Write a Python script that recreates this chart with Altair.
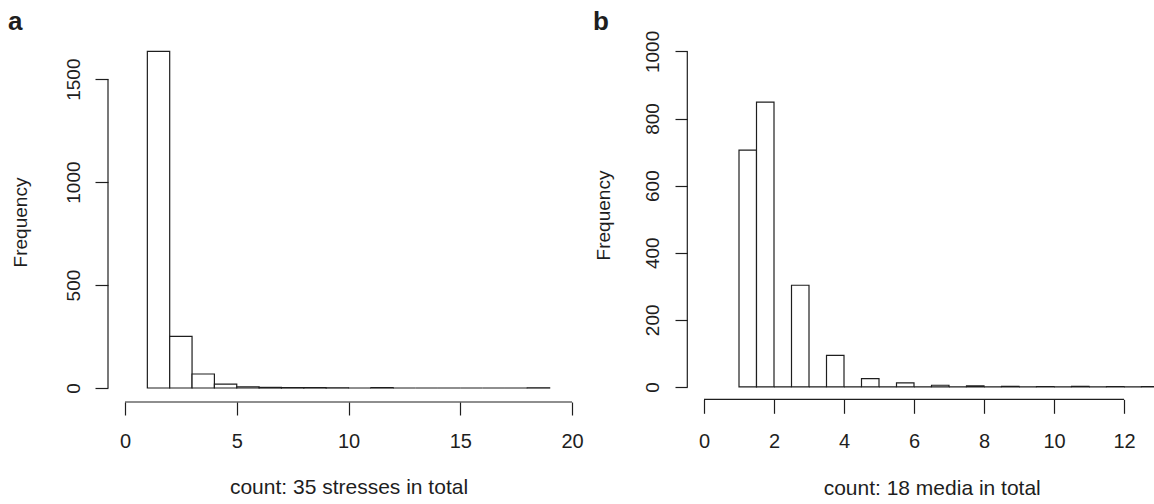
import altair as alt
import pandas as pd

# ---- data ----
a_bin_left = [1, 2, 3, 4, 5, 6, 7, 8, 9, 10, 11, 12, 13, 14, 15, 16, 17, 18]
a_counts = [1635, 251, 68, 19, 6, 3, 2, 2, 1, 0, 2, 0, 0, 0, 0, 0, 0, 1]
a_xticks = [0, 5, 10, 15, 20]
a_yticks = [0, 500, 1000, 1500]

b_bin_left = [1.0, 1.5, 2.0, 2.5, 3.0, 3.5, 4.0, 4.5, 5.0, 5.5, 6.0, 6.5,
              7.0, 7.5, 8.0, 8.5, 9.0, 9.5, 10.0, 10.5, 11.0, 11.5, 12.0, 12.5]
b_counts = [706, 849, 0, 303, 0, 94, 0, 25, 0, 12, 0, 5,
            0, 3, 0, 2, 0, 1, 0, 2, 0, 1, 0, 1]
b_xticks = [0, 2, 4, 6, 8, 10, 12]
b_yticks = [0, 200, 400, 600, 800, 1000]

FONT = "Liberation Sans"
INK = "#1e1e1e"


def panel(letter, lefts, counts, bin_w, width, height, xdom, ydom, xticks, yticks,
          xtitle, xoff, xtick, xlabpad, xtitle_x, xtitle_y,
          yoff, ytick, ylabpad, ytitle_x, ytitle_y, letter_x, clip, anchor):
    df = pd.DataFrame({"lo": lefts, "n": counts})
    xs = alt.Scale(domain=xdom, nice=False, zero=False)
    ys = alt.Scale(domain=ydom, nice=False, zero=False)
    bars = alt.Chart(df).transform_calculate(hi=f"datum.lo + {bin_w}").mark_rect(
        fill="white", stroke=INK, strokeWidth=1.2, clip=clip
    ).encode(
        x=alt.X("lo:Q", scale=xs, axis=alt.Axis(
            values=xticks, format="d", offset=xoff, tickSize=xtick, domain=False, grid=False,
            labelPadding=xlabpad, labelFlush=False, labelOverlap=False,
            labelFontSize=20, labelFont=FONT, labelColor=INK,
            tickColor=INK, tickWidth=1.2,
            title=xtitle, titleFont=FONT, titleFontSize=21, titleFontWeight="normal",
            titleColor=INK, titleX=xtitle_x, titleY=xtitle_y, titleBaseline="middle",
            titleAlign="center")),
        x2="hi:Q",
        y=alt.Y("n:Q", scale=ys, axis=alt.Axis(
            values=yticks, format="d", offset=yoff, tickSize=ytick, domain=False, grid=False,
            labelAngle=-90, labelAlign="center", labelBaseline="bottom",
            labelPadding=ylabpad, labelFlush=False, labelOverlap=False,
            labelFontSize=19, labelFont=FONT, labelColor=INK,
            tickColor=INK, tickWidth=1.2,
            title="Frequency", titleFont=FONT, titleFontSize=19, titleFontWeight="normal",
            titleColor=INK, titleX=ytitle_x, titleY=ytitle_y, titleBaseline="middle",
            titleAlign="center")),
        y2=alt.datum(0),
    )
    one = pd.DataFrame({"label": [letter]})
    xline = alt.Chart(one).mark_rule(color=INK, strokeWidth=1.2).encode(
        x=alt.datum(xticks[0], scale=xs), x2=alt.datum(xticks[-1]),
        y=alt.value(height + xoff))
    yline = alt.Chart(one).mark_rule(color=INK, strokeWidth=1.2).encode(
        y=alt.datum(yticks[0], scale=ys), y2=alt.datum(yticks[-1]),
        x=alt.value(-yoff))
    lab = alt.Chart(one).mark_text(
        font=FONT, fontSize=26, fontWeight="bold", align="left",
        baseline="alphabetic", color=INK
    ).encode(x=alt.value(letter_x), y=alt.value(-8), text="label:N")
    layers = [bars, xline, yline, lab]
    if anchor:
        layers.append(alt.Chart(one).mark_rule(strokeOpacity=0, strokeWidth=0).encode(
            x=alt.value(-125), x2=alt.value(-124), y=alt.value(-38), y2=alt.value(-37)))
    return alt.layer(*layers).properties(width=width, height=height)


pa = panel("a", a_bin_left, a_counts, 1, 447, 350, [0, 20], [0, 1700],
           a_xticks, a_yticks, "count: 35 stresses in total",
           14, 13, 16.5, 223.5, 85,
           17, 13, 11.8, -88, 184, -117, False, True)

pb = panel("b", b_bin_left, b_counts, 0.5, 450, 350.6, [0, 450 / 35], [-5, 1040],
           b_xticks, b_yticks, "count: 18 media in total",
           10.7, 14, 18.2, 227.7, 88.7,
           16.7, 12.3, 12.5, -84.3, 177, -111, True, False)

chart = alt.hconcat(pa, pb, spacing=132, bounds="flush").configure(
    padding=0, autosize=alt.AutoSizeParams(type="pad"), background="white"
).configure_view(stroke=None)

chart.save("out.html", embed_options={"renderer": "svg", "actions": False})
